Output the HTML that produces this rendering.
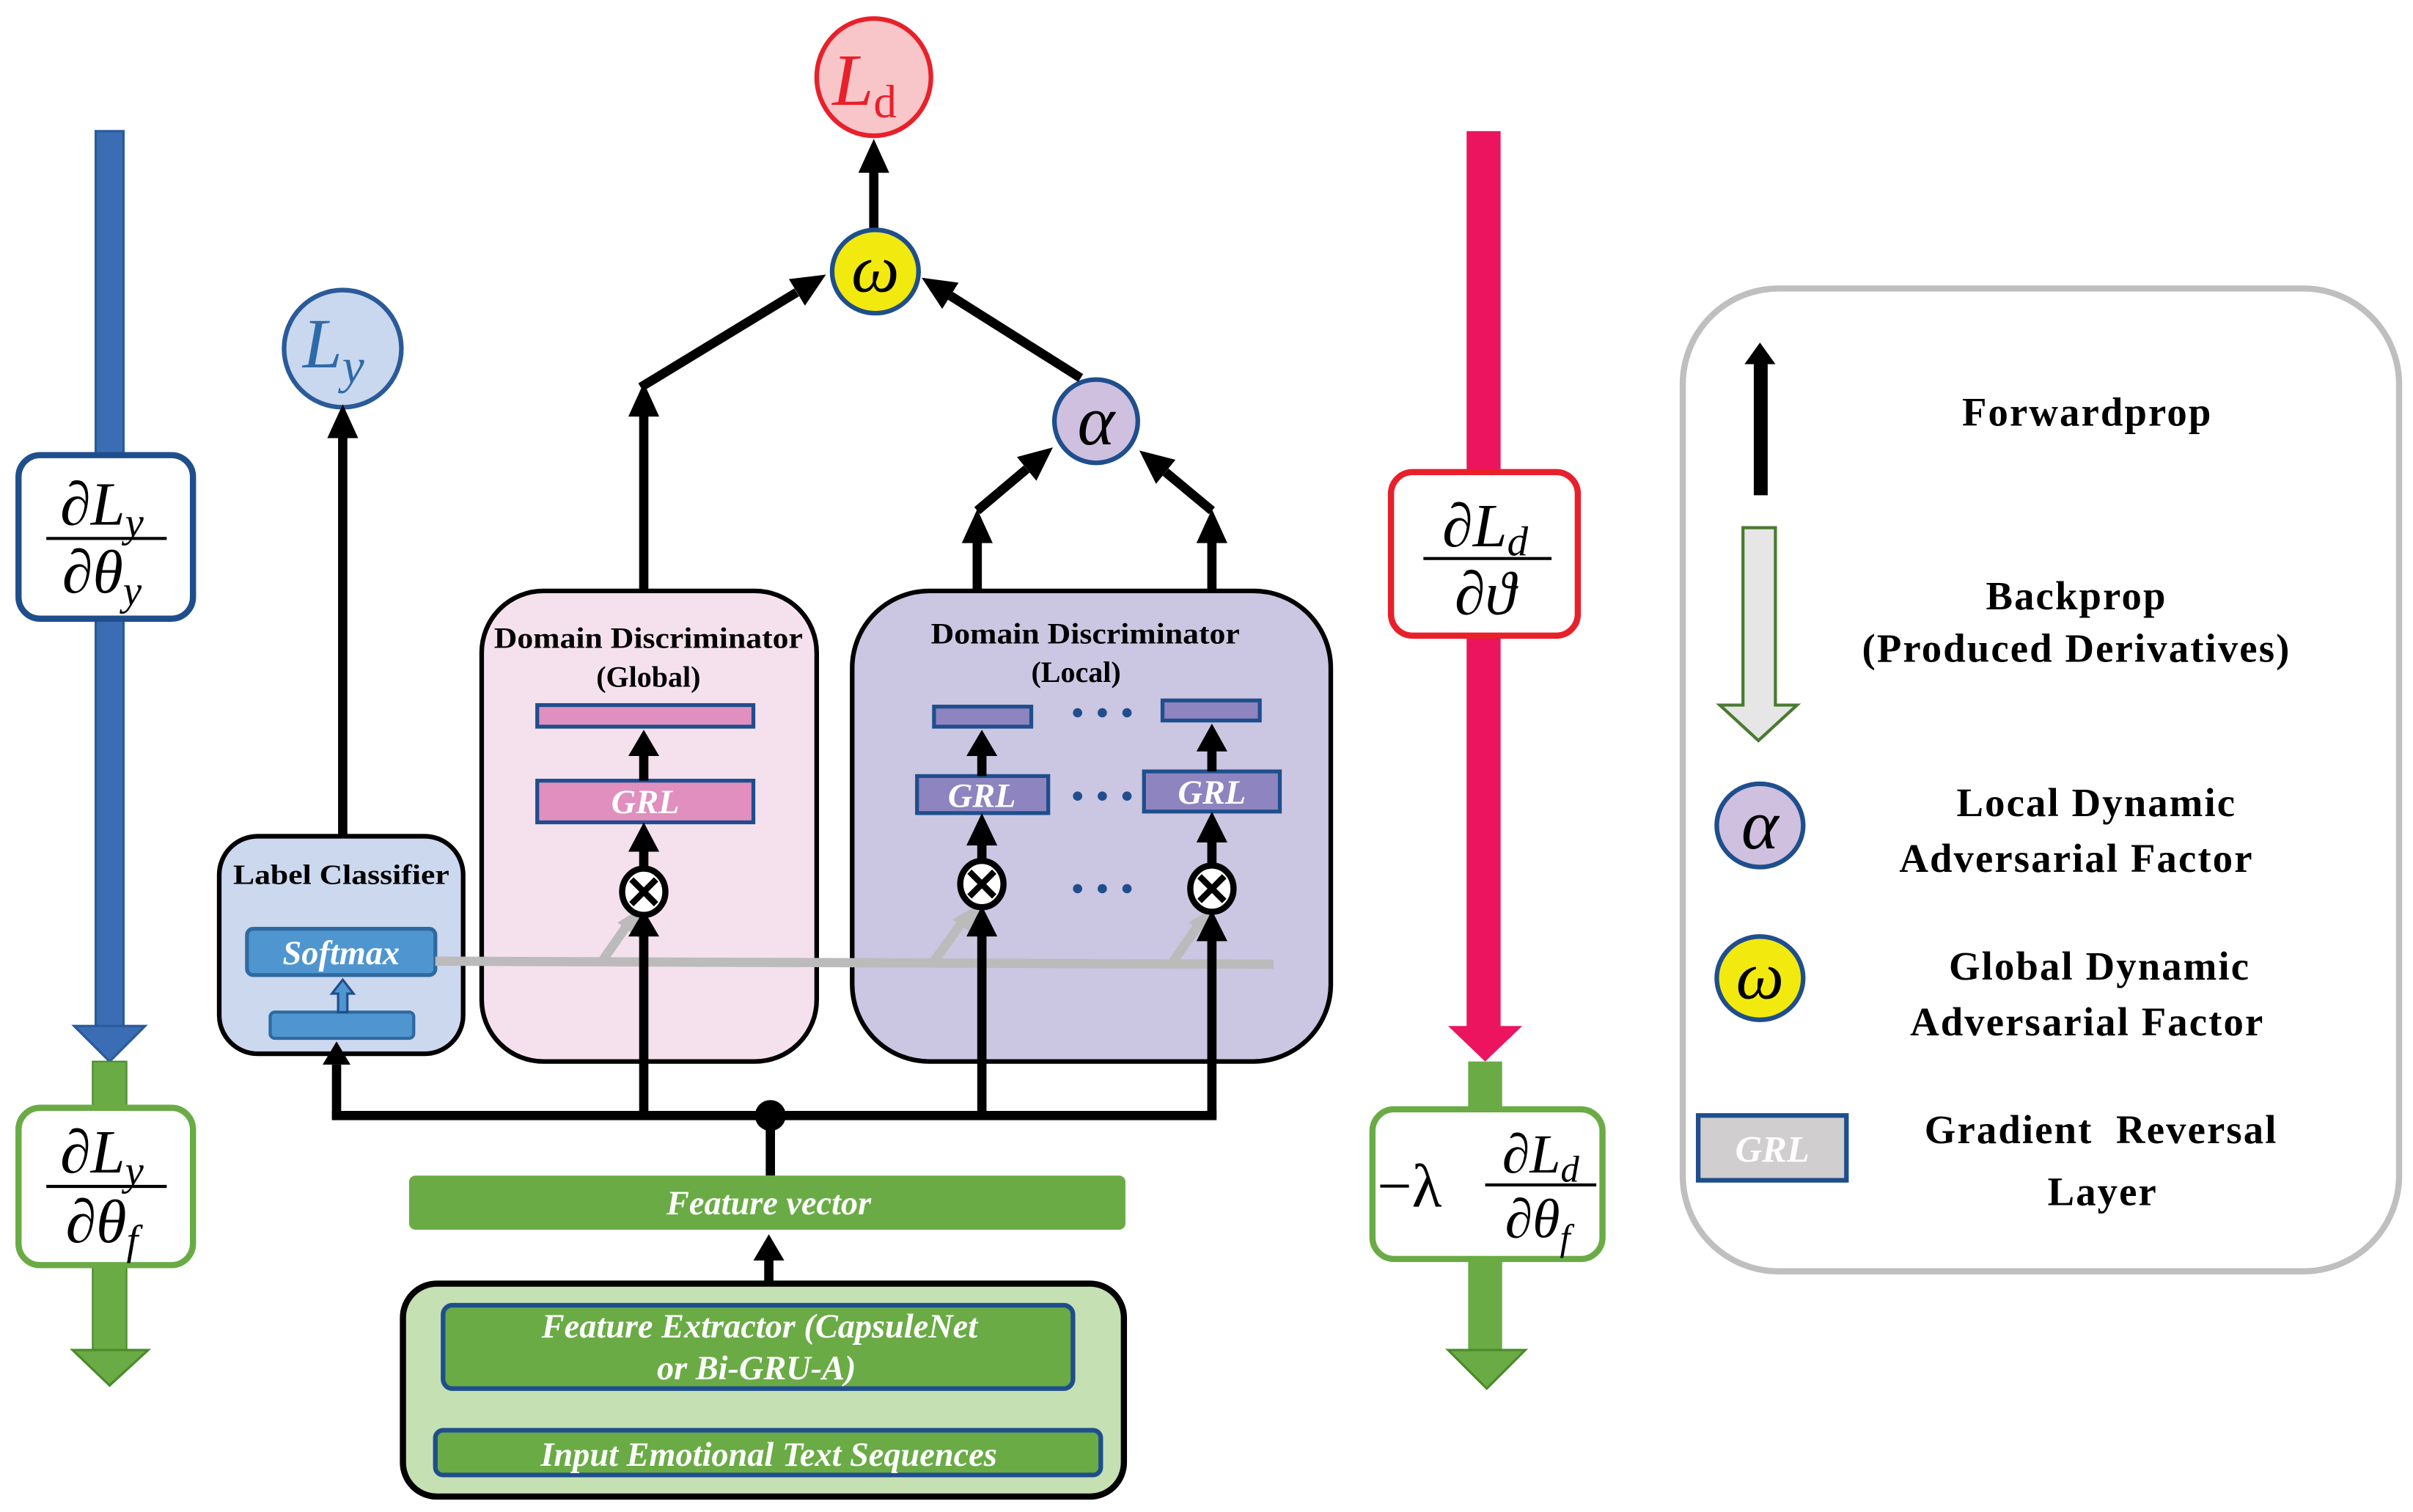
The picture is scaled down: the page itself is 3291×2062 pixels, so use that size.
<!DOCTYPE html>
<html><head><meta charset="utf-8"><style>
html,body{margin:0;padding:0;background:#fff;}
svg{display:block;}
.b{font-family:"Liberation Serif",serif;font-weight:bold;}
.m{font-family:"Liberation Serif",serif;font-style:italic;}
.w{font-family:"Liberation Serif",serif;font-style:italic;font-weight:bold;fill:#fff;}
</style></head><body>
<svg width="3291" height="2062" viewBox="0 0 1563 980" preserveAspectRatio="none" xmlns="http://www.w3.org/2000/svg">
<!-- left blue backprop -->
<rect x="62" y="85" width="18" height="582" fill="#3a6db4" stroke="#2a5a9a" stroke-width="1.5"/>
<polygon points="48,665 94,665 71,688" fill="#3a6db4" stroke="#2a5a9a" stroke-width="1.5"/>
<rect x="12" y="295" width="113" height="106" rx="14" fill="#fff" stroke="#1f4e8c" stroke-width="4"/>
<text x="66" y="340" class="m" font-size="40" text-anchor="middle"><tspan font-style="normal">∂</tspan>L<tspan font-size="27" dy="8">y</tspan></text>
<line x1="30" y1="349" x2="108" y2="349" stroke="#000" stroke-width="2"/>
<text x="66" y="384" class="m" font-size="40" text-anchor="middle"><tspan font-style="normal">∂</tspan>θ<tspan font-size="27" dy="8">y</tspan></text>
<rect x="60" y="688" width="22" height="188" fill="#6aab45" stroke="#4a8a2a" stroke-width="1"/>
<polygon points="47,875 96,875 71,898" fill="#6aab45" stroke="#4a8a2a" stroke-width="1.5"/>
<rect x="12" y="718" width="113" height="102" rx="14" fill="#fff" stroke="#6aab45" stroke-width="4"/>
<text x="66" y="760" class="m" font-size="40" text-anchor="middle"><tspan font-style="normal">∂</tspan>L<tspan font-size="27" dy="8">y</tspan></text>
<line x1="30" y1="769" x2="108" y2="769" stroke="#000" stroke-width="2"/>
<text x="66" y="805" class="m" font-size="40" text-anchor="middle"><tspan font-style="normal">∂</tspan>θ<tspan font-size="27" dy="8">f</tspan></text>

<!-- right red backprop -->
<rect x="950" y="85" width="22" height="582" fill="#ec135f"/>
<polygon points="938,665 986,665 962,688" fill="#ec135f"/>
<rect x="901" y="306" width="121" height="106" rx="14" fill="#fff" stroke="#e8202a" stroke-width="4"/>
<text x="962" y="354" class="m" font-size="40" text-anchor="middle"><tspan font-style="normal">∂</tspan>L<tspan font-size="27" dy="6">d</tspan></text>
<line x1="922" y1="362" x2="1005" y2="362" stroke="#000" stroke-width="2"/>
<text x="962" y="398" class="m" font-size="40" text-anchor="middle"><tspan font-style="normal">∂</tspan>ϑ</text>
<rect x="951" y="688" width="22" height="188" fill="#6aab45"/>
<polygon points="938,875 988,875 963,900" fill="#6aab45" stroke="#4a8a2a" stroke-width="1.5"/>
<rect x="889" y="719" width="149" height="97" rx="14" fill="#fff" stroke="#6aab45" stroke-width="4"/>
<text x="892" y="782" class="m" font-size="40"><tspan font-style="normal">−λ</tspan></text>
<text x="998" y="760" class="m" font-size="36" text-anchor="middle"><tspan font-style="normal">∂</tspan>L<tspan font-size="24" dy="6">d</tspan></text>
<line x1="962" y1="768" x2="1034" y2="768" stroke="#000" stroke-width="2"/>
<text x="996" y="802" class="m" font-size="36" text-anchor="middle"><tspan font-style="normal">∂</tspan>θ<tspan font-size="24" dy="8">f</tspan></text>

<!-- legend -->
<rect x="1090" y="187" width="464" height="637" rx="62" fill="#fff" stroke="#bfbfbf" stroke-width="4"/>
<rect x="1136" y="234" width="9" height="87" fill="#000"/>
<polygon points="1130,236 1150,236 1140,222" fill="#000"/>
<polygon points="1129,342 1150,342 1150,457 1164,457 1139,480 1114,457 1129,457" fill="#e6e6e6" stroke="#4a7a30" stroke-width="2"/>
<ellipse cx="1140" cy="535" rx="28" ry="27" fill="#cfc0e0" stroke="#1f4e8c" stroke-width="3"/>
<text x="1140" y="550" class="m" font-size="46" text-anchor="middle">α</text>
<ellipse cx="1140" cy="634" rx="28" ry="27" fill="#f2ea0f" stroke="#1f4e8c" stroke-width="3"/>
<text x="1140" y="647" class="m" font-size="44" text-anchor="middle">ω</text>
<rect x="1100" y="723" width="96" height="42" fill="#d0cece" stroke="#1f4e8c" stroke-width="3"/>
<text x="1148" y="753" class="w" font-size="24" text-anchor="middle">GRL</text>
<g class="b" font-size="26" text-anchor="middle" letter-spacing="1">
<text x="1352" y="276">Forwardprop</text>
<text x="1345" y="395">Backprop</text>
<text x="1345" y="429">(Produced Derivatives)</text>
<text x="1358" y="529">Local Dynamic</text>
<text x="1345" y="565">Adversarial Factor</text>
<text x="1360" y="635">Global Dynamic</text>
<text x="1352" y="671">Adversarial Factor</text>
<text x="1361" y="741">Gradient&#160; Reversal</text>
<text x="1362" y="781">Layer</text>
</g>

<!-- top nodes -->
<ellipse cx="566" cy="50" rx="37" ry="38" fill="#f8c5c8" stroke="#e8202a" stroke-width="3"/>
<text x="560" y="68" class="m" font-size="48" fill="#e8202a" text-anchor="middle">L<tspan font-style="normal" font-size="30" dy="8">d</tspan></text>
<line x1="566" y1="150" x2="566" y2="110" stroke="#000" stroke-width="6"/>
<polygon points="556,112 576,112 566,90" fill="#000"/>
<ellipse cx="567" cy="176" rx="28" ry="27" fill="#f2ea0f" stroke="#1f4e8c" stroke-width="3"/>
<text x="567" y="189" class="m" font-size="44" text-anchor="middle">ω</text>
<ellipse cx="222" cy="226" rx="38" ry="38" fill="#c9d8ee" stroke="#2a5a9a" stroke-width="3"/>
<text x="216" y="238" class="m" font-size="46" fill="#2e6aa8" text-anchor="middle">L<tspan font-size="32" dy="10">y</tspan></text>
<ellipse cx="710" cy="273" rx="27" ry="27" fill="#cfc0e0" stroke="#1f4e8c" stroke-width="3"/>
<text x="710" y="288" class="m" font-size="46" text-anchor="middle">α</text>

<!-- connectors to omega -->
<g stroke="#000" stroke-width="6" fill="none">
<line x1="417" y1="382" x2="417" y2="268"/>
<line x1="415" y1="251" x2="516" y2="189.5"/>
<line x1="700" y1="245" x2="615.6" y2="191.7"/>
<line x1="633" y1="382" x2="633" y2="348"/>
<line x1="633" y1="331" x2="665" y2="304"/>
<line x1="785" y1="382" x2="785" y2="348"/>
<line x1="785" y1="331" x2="755" y2="306"/>
<line x1="222" y1="542" x2="222" y2="282"/>
</g>
<g fill="#000">
<polygon points="407,270 427,270 417,248"/>
<polygon points="521.4,198.1 511,180.9 535,178"/>
<polygon points="620.9,183.2 610.3,200.2 597,180"/>
<polygon points="623,352 643,352 633,330"/>
<polygon points="671.3,311.6 658.7,296.2 682,290"/>
<polygon points="775,352 795,352 785,330"/>
<polygon points="761.4,298 748.8,313.6 738,292"/>
<polygon points="212,284 232,284 222,262"/>
</g>

<!-- Global DD -->
<rect x="312" y="383" width="217" height="305" rx="40" fill="#f5e1ee" stroke="#000" stroke-width="3"/>
<text x="420" y="420" class="b" font-size="19" text-anchor="middle" textLength="200" lengthAdjust="spacingAndGlyphs">Domain Discriminator</text>
<text x="420" y="445" class="b" font-size="19" text-anchor="middle">(Global)</text>
<rect x="348" y="457" width="140" height="14" fill="#e08fbf" stroke="#1f4e8c" stroke-width="2.5"/>
<rect x="348" y="506" width="140" height="27" fill="#e08fbf" stroke="#1f4e8c" stroke-width="2.5"/>
<text x="418" y="527" class="w" font-size="22" text-anchor="middle">GRL</text>

<!-- Local DD -->
<rect x="552" y="383" width="310" height="305" rx="50" fill="#cbc6e2" stroke="#000" stroke-width="3"/>
<text x="703" y="417" class="b" font-size="19" text-anchor="middle" textLength="200" lengthAdjust="spacingAndGlyphs">Domain Discriminator</text>
<text x="697" y="442" class="b" font-size="19" text-anchor="middle">(Local)</text>
<rect x="605" y="458" width="63" height="13" fill="#8e84bf" stroke="#1f4e8c" stroke-width="2.5"/>
<rect x="753" y="454" width="63" height="13" fill="#8e84bf" stroke="#1f4e8c" stroke-width="2.5"/>
<rect x="594" y="503" width="85" height="24" fill="#8e84bf" stroke="#1f4e8c" stroke-width="2.5"/>
<rect x="741" y="500" width="88" height="26" fill="#8e84bf" stroke="#1f4e8c" stroke-width="2.5"/>
<text x="636" y="523" class="w" font-size="22" text-anchor="middle">GRL</text>
<text x="785" y="521" class="w" font-size="22" text-anchor="middle">GRL</text>
<g fill="#1f4e8c">
<circle cx="698" cy="462" r="3"/><circle cx="714" cy="462" r="3"/><circle cx="730" cy="462" r="3"/>
<circle cx="698" cy="516" r="3"/><circle cx="714" cy="516" r="3"/><circle cx="730" cy="516" r="3"/>
<circle cx="698" cy="576" r="3"/><circle cx="714" cy="576" r="3"/><circle cx="730" cy="576" r="3"/>
</g>

<!-- Label classifier -->
<rect x="142" y="542" width="158" height="141" rx="25" fill="#ccd8ee" stroke="#000" stroke-width="3"/>
<text x="221" y="573" class="b" font-size="18" text-anchor="middle" textLength="140" lengthAdjust="spacingAndGlyphs">Label Classifier</text>
<rect x="160" y="602" width="122" height="30" rx="4" fill="#4f96d0" stroke="#2e6aa0" stroke-width="2.5"/>
<text x="221" y="625" class="w" font-size="22" text-anchor="middle">Softmax</text>
<rect x="175" y="656" width="93" height="17" rx="3" fill="#4f96d0" stroke="#2e6aa0" stroke-width="2"/>
<polygon points="219,656 219,644 215,644 222,635 229,644 225,644 225,656" fill="#4f96d0" stroke="#1f4e8c" stroke-width="1.5"/>

<!-- gray line and small arrows -->
<g stroke="#bbbbbb" stroke-width="6" fill="none">
<line x1="282" y1="623" x2="825" y2="625"/>
<line x1="390" y1="623" x2="406" y2="600"/>
<line x1="605" y1="623" x2="623" y2="598"/>
<line x1="760" y1="623" x2="776" y2="600"/>
</g>
<g fill="#bbbbbb">
<polygon points="400,598 414,608 416,588"/>
<polygon points="617,596 631,606 634,586"/>
<polygon points="770,598 784,608 786,588"/>
</g>

<!-- GRL/ otimes arrows -->
<g stroke="#000" stroke-width="6" fill="none">
<line x1="417" y1="506" x2="417" y2="488"/>
<line x1="417" y1="563" x2="417" y2="550"/>
<line x1="636" y1="503" x2="636" y2="488"/>
<line x1="636" y1="558" x2="636" y2="546"/>
<line x1="785" y1="500" x2="785" y2="485"/>
<line x1="785" y1="560" x2="785" y2="544"/>
<line x1="417" y1="725" x2="417" y2="605"/>
<line x1="636" y1="725" x2="636" y2="605"/>
<line x1="785" y1="725" x2="785" y2="608"/>
<line x1="218" y1="725" x2="218" y2="690"/>
<line x1="215" y1="723" x2="788" y2="723"/>
<line x1="499" y1="723" x2="499" y2="762"/>
<line x1="498" y1="832" x2="498" y2="815"/>
<line x1="492" y1="927" x2="492" y2="915"/>
</g>
<g fill="#000">
<polygon points="407,490 427,490 417,473"/>
<polygon points="407,552 427,552 417,533"/>
<polygon points="626,490 646,490 636,473"/>
<polygon points="626,548 646,548 636,527"/>
<polygon points="775,487 795,487 785,469"/>
<polygon points="775,546 795,546 785,526"/>
<polygon points="407,607 427,607 417,590"/>
<polygon points="626,607 646,607 636,587"/>
<polygon points="775,610 795,610 785,590"/>
<polygon points="209,690 227,690 218,675"/>
<polygon points="488,817 508,817 498,800"/>
<polygon points="482,917 502,917 492,900"/>
<ellipse cx="499" cy="723" rx="10" ry="10"/>
</g>
<g fill="#fff" stroke="#000" stroke-width="4">
<ellipse cx="417" cy="578" rx="14" ry="15"/>
<ellipse cx="636" cy="573" rx="14" ry="15"/>
<ellipse cx="785" cy="576" rx="14" ry="15"/>
</g>
<g stroke="#000" stroke-width="4">
<line x1="409" y1="570" x2="425" y2="586"/><line x1="425" y1="570" x2="409" y2="586"/>
<line x1="628" y1="565" x2="644" y2="581"/><line x1="644" y1="565" x2="628" y2="581"/>
<line x1="777" y1="568" x2="793" y2="584"/><line x1="793" y1="568" x2="777" y2="584"/>
</g>

<!-- feature vector & extractor -->
<rect x="265" y="762" width="464" height="35" rx="4" fill="#6aab45"/>
<text x="498" y="787" class="w" font-size="22" text-anchor="middle">Feature vector</text>
<rect x="261" y="832" width="467" height="138" rx="22" fill="#c5e0b3" stroke="#000" stroke-width="4"/>
<rect x="287" y="846" width="408" height="54" rx="6" fill="#6aab45" stroke="#1f4e8c" stroke-width="3"/>
<text x="492" y="867" class="w" font-size="22" text-anchor="middle">Feature Extractor (CapsuleNet</text>
<text x="490" y="894" class="w" font-size="22" text-anchor="middle">or Bi-GRU-A)</text>
<rect x="282" y="927" width="431" height="29" rx="5" fill="#6aab45" stroke="#1f4e8c" stroke-width="3"/>
<text x="498" y="950" class="w" font-size="22" text-anchor="middle">Input Emotional Text Sequences</text>
</svg>
</body></html>
